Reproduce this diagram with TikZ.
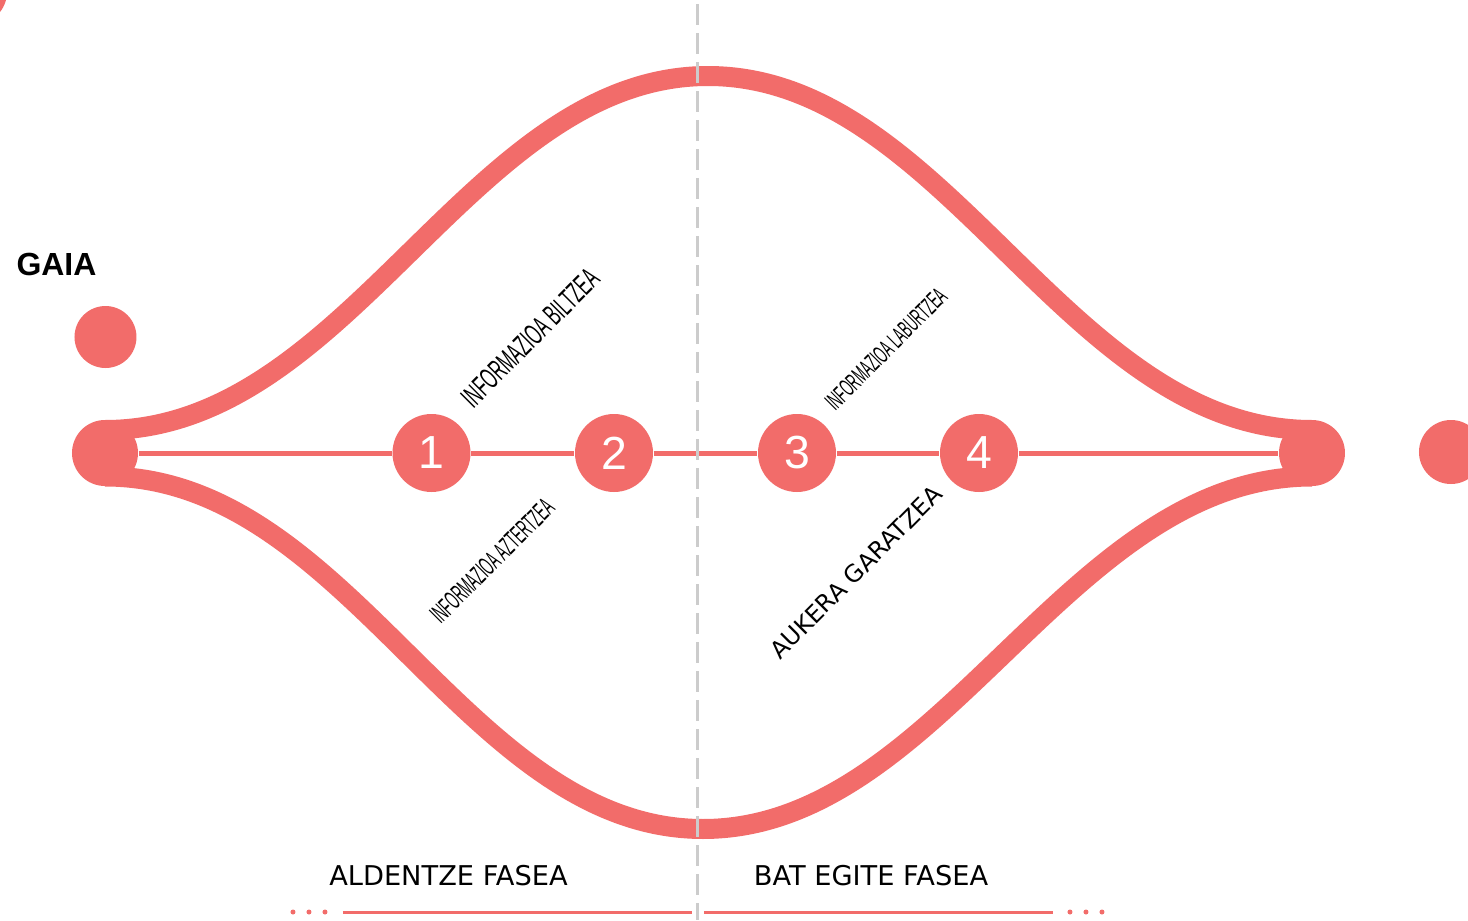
\documentclass[tikz,border=0pt]{standalone}
\usepackage{xcolor}
\usepackage{fontspec}
\setmainfont{DejaVu Sans}
\newfontfamily\titlefont{Liberation Sans}
\newfontfamily\numfont{Liberation Sans}
\newfontfamily\narrowfont[FakeStretch=0.54]{Liberation Sans}
\usepackage{tikz}
\usetikzlibrary{positioning, calc, backgrounds}
\definecolor{coral}{RGB}{242,108,106}
\definecolor{guide}{RGB}{204,204,204}
\tikzset{
    curve_main/.style={
        line width=0.2cm, draw=coral
    },
    axis_line/.style={
        line width=0.05cm, draw=coral
    },
    end_dot/.style={
        circle, fill=coral, minimum size=0.66cm, inner sep=0pt
    },
    step_dot/.style={
        circle, fill=coral, minimum size=0.78cm, inner sep=0pt, text=white,
        font=\numfont\fontsize{13.2}{15}\selectfont
    },
    phase_label/.style={
        inner sep=0pt, font=\fontsize{7.75}{9}\selectfont
    },
    task_label/.style={
        rotate=45, inner sep=0pt
    },
    divider/.style={
        draw=guide, line width=0.03cm, dash pattern=on 0.21cm off 0.08cm, dash phase=0.247cm
    },
    rule_line/.style={
        draw=coral, line width=0.03cm
    }
}

\begin{document}
\begin{tikzpicture}
    \clip (-7.08,-4.67) rectangle (7.60,4.53);

    % Extremos y pasos
    \node[end_dot] (inicio) at (-6.03, 0) {};
    \node[end_dot] (fin) at (6.04, 0) {};
    \node[step_dot] (p1) at (-2.765, 0) {1};
    \node[step_dot] (p2) at (-0.94, 0) {2};
    \node[step_dot] (p3) at (0.89, 0) {3};
    \node[step_dot] (p4) at (2.71, 0) {4};
    \coordinate (cima) at (0, 3.77);
    \coordinate (fondo) at (-0.05, -3.76);

    % Tema y puntos sueltos
    \node[inner sep=0pt, font=\titlefont\bfseries\fontsize{9.1}{11}\selectfont] (gaia) at (-6.515, 1.885) {GAIA};
    \node[end_dot, minimum size=0.62cm] (gaia_dot) at (-6.025, 1.16) {};
    \node[end_dot, minimum size=0.64cm] (siguiente) at (7.43, 0.01) {};
    \node[end_dot, minimum size=0.64cm] (previo) at (-7.33, 4.61) {};

    % Rombo de divergencia y convergencia
    \begin{scope}[on background layer]
        \fill[white] (-7.08,-4.67) rectangle (7.60,4.53);
        \draw[curve_main] ([yshift=0.23cm]inicio.center) .. controls +(2.45,0) and +(-2.38,0) .. (cima)
            .. controls +(2.38,0) and +(-2.45,0) .. ([yshift=0.23cm]fin.center);
        \draw[curve_main] ([yshift=-0.235cm]inicio.center) .. controls +(2.45,0) and +(-2.38,0) .. (fondo)
            .. controls +(2.38,0) and +(-2.45,0) .. ([yshift=-0.235cm]fin.center);
        \draw[axis_line] (inicio) -- (p1) -- (p2) -- (p3) -- (p4) -- (fin);
    \end{scope}

    % Tareas
    \node[task_label, font=\narrowfont\fontsize{8.5}{10}\selectfont] (biltzea) at (-1.78, 1.15) {INFORMAZIOA BILTZEA};
    \node[task_label, font=\narrowfont\addfontfeature{FakeStretch=0.47}\fontsize{7.55}{9}\selectfont] (aztertzea) at (-2.16, -1.08) {INFORMAZIOA AZTERTZEA};
    \node[task_label, font=\narrowfont\addfontfeature{FakeStretch=0.49}\fontsize{7.1}{9}\selectfont] (laburtzea) at (1.78, 1.04) {INFORMAZIOA LABURTZEA};
    \node[task_label, font=\fontsize{6.8}{8}\selectfont] (garatzea) at (1.48, -1.19) {AUKERA GARATZEA};

    % Fases
    \node[phase_label] (aldentze) at (-2.595, -4.23) {ALDENTZE FASEA};
    \node[phase_label] (bategite) at (1.63, -4.23) {BAT EGITE FASEA};
    \draw[rule_line] (-3.65,-4.59) -- (-0.16,-4.59);
    \draw[rule_line] (-0.04,-4.59) -- (3.45,-4.59);
    \foreach \x in {-4.15,-3.99,-3.83,3.62,3.78,3.94}
        \fill[coral] (\x,-4.59) circle (0.025);

    % Linea divisoria
    \coordinate (corte_arriba) at (-0.10, 4.53);
    \coordinate (corte_abajo) at (-0.10, -4.67);
    \draw[divider] (corte_arriba) -- (corte_abajo);
\end{tikzpicture}
\end{document}
